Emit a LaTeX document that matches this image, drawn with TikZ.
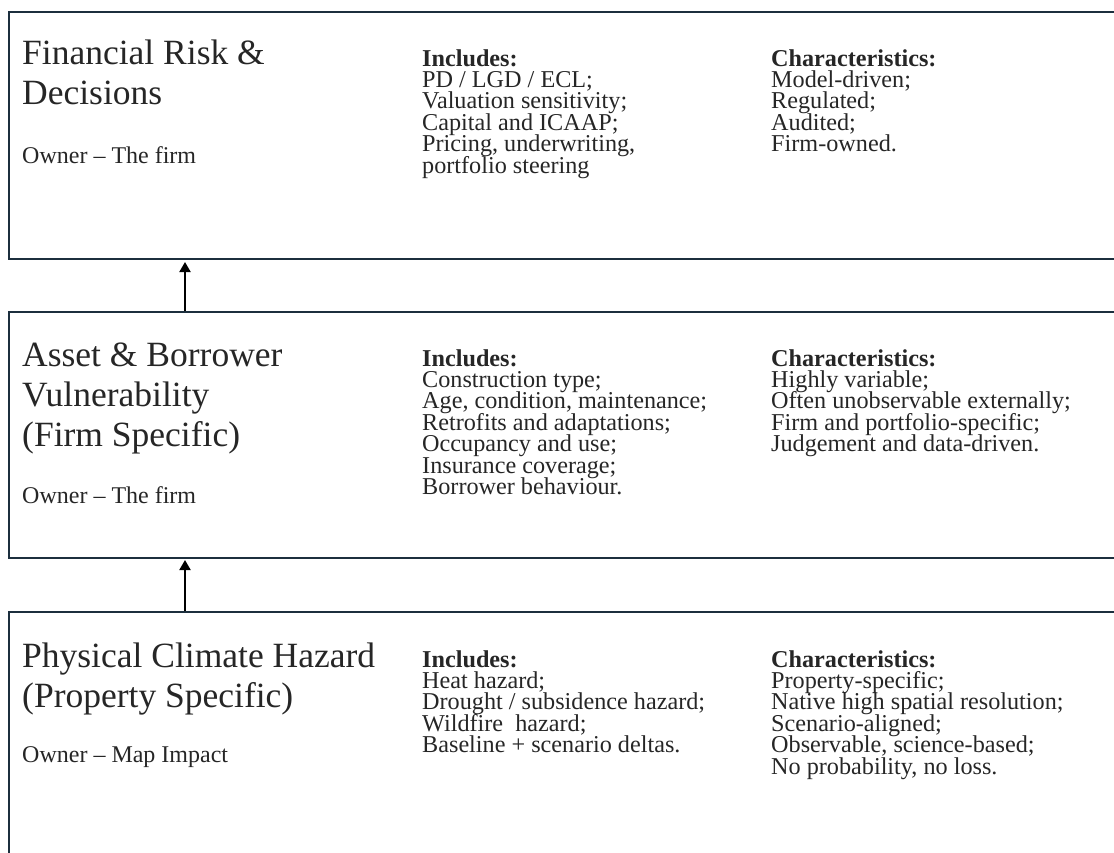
\documentclass[tikz,border=0pt]{standalone}
\usepackage{fontspec}
\setmainfont{Liberation Serif}
\usetikzlibrary{arrows.meta}
\definecolor{boxline}{HTML}{1C2F3E}
\definecolor{ink}{HTML}{262626}

\begin{document}
\lineskiplimit=-40pt
\begin{tikzpicture}[x=1pt,y=-1pt]
	\useasboundingbox (0,0) rectangle (1114,852);
	\begin{scope}[line width=2pt]
		\tikzstyle{every node}=[draw=boxline,anchor=north west,inner sep=0pt,minimum width=1130pt];
		\path (8,11)  node [minimum height=247pt] (fin) {};
		\path (8,311) node [minimum height=246pt] (vul) {};
		\path (8,611) node [minimum height=262pt] (haz) {};
		\draw [-{Triangle[width=11pt,length=10pt]},shorten >=2pt] ([xshift=177pt]vul.north west) -- ([xshift=177pt]fin.south west);
		\draw [-{Triangle[width=11pt,length=10pt]},shorten >=1pt] ([xshift=177pt]haz.north west) -- ([xshift=177pt]vul.south west);
	\end{scope}
	\begin{scope}
		% nodes sit on the baseline of their last line
		\tikzstyle{every node}=[anchor=base west,align=left,inner sep=0pt,text=ink];
		\tikzstyle{title}=[font=\fontsize{35.5}{40}\selectfont];
		\tikzstyle{owner}=[font=\fontsize{24}{21.4}\selectfont];
		\tikzstyle{items}=[font=\fontsize{24.2}{21.4}\selectfont];
		% top layer
		\path (22,104)  node [title] (finT) {Financial Risk \&\\Decisions};
		\path (22,163)  node [owner] (finO) {Owner -- The firm};
		\path (422,173) node [items] (finI) {\textbf{Includes:}\\PD / LGD / ECL;\\Valuation sensitivity;\\Capital and ICAAP;\\Pricing, underwriting,\\portfolio steering};
		\path (771,151.6) node [items] (finC) {\textbf{Characteristics:}\\Model-driven;\\Regulated;\\Audited;\\Firm-owned.};
		% middle layer
		\path (22,446)  node [title] (vulT) {Asset \& Borrower\\Vulnerability\\(Firm Specific)};
		\path (22,503)  node [owner] (vulO) {Owner -- The firm};
		\path (422,494.4) node [items] (vulI) {\textbf{Includes:}\\Construction type;\\Age, condition, maintenance;\\Retrofits and adaptations;\\Occupancy and use;\\Insurance coverage;\\Borrower behaviour.};
		\path (771,451.6) node [items] (vulC) {\textbf{Characteristics:}\\Highly variable;\\Often unobservable externally;\\Firm and portfolio-specific;\\Judgement and data-driven.};
		% bottom layer
		\path (22,707)  node [title] (hazT) {Physical Climate Hazard\\(Property Specific)};
		\path (22,762)  node [owner] (hazO) {Owner -- Map Impact};
		\path (422,752.6) node [items] (hazI) {\textbf{Includes:}\\Heat hazard;\\Drought / subsidence hazard;\\Wildfire\ \ hazard;\\Baseline + scenario deltas.};
		\path (771,774) node [items] (hazC) {\textbf{Characteristics:}\\Property-specific;\\Native high spatial resolution;\\Scenario-aligned;\\Observable, science-based;\\No probability, no loss.};
	\end{scope}
\end{tikzpicture}
\end{document}
